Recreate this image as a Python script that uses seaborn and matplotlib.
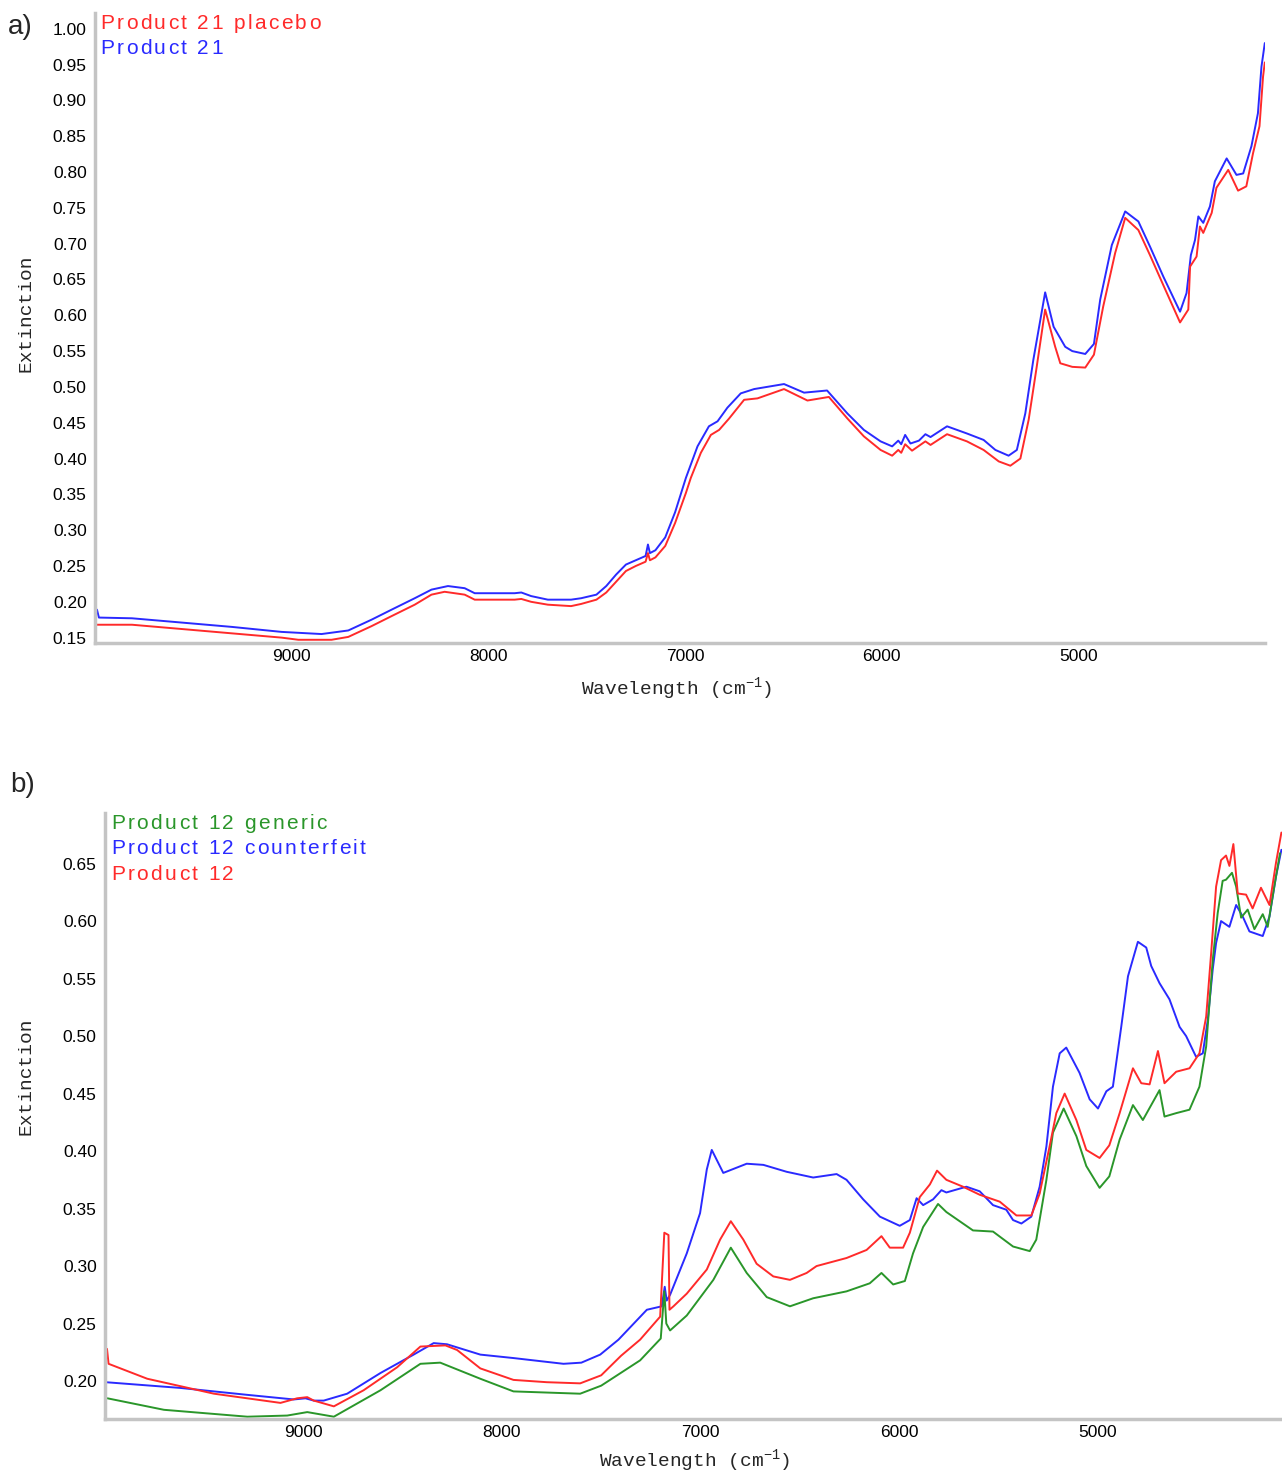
import numpy as np
import pandas as pd
import seaborn as sns
import matplotlib.pyplot as plt
from matplotlib.ticker import MultipleLocator, FormatStrFormatter
from matplotlib.transforms import offset_copy

# Panel a) Product 21 vs placebo
a_blue_wn = [9990, 9980, 9812, 9558, 9305, 9051, 8848, 8712, 8594, 8492, 8374, 8289, 8205, 8120,
             8069, 7866, 7832, 7782, 7697, 7579, 7528, 7450, 7400, 7350, 7300, 7250, 7200, 7188,
             7178, 7150, 7100, 7050, 6995, 6936, 6878, 6834, 6784, 6716, 6648, 6496, 6394, 6277,
             6174, 6090, 6005, 5946, 5915, 5900, 5880, 5853, 5810, 5777, 5751, 5667, 5566, 5481,
             5421, 5354, 5312, 5269, 5228, 5168, 5125, 5066, 5030, 4964, 4920, 4888, 4829, 4761,
             4694, 4635, 4567, 4482, 4449, 4427, 4406, 4389, 4364, 4330, 4305, 4245, 4195, 4161,
             4119, 4086, 4068, 4051]
a_blue_val = [0.189, 0.178, 0.177, 0.171, 0.165, 0.158, 0.155, 0.160, 0.175, 0.189, 0.205, 0.217,
              0.222, 0.219, 0.212, 0.212, 0.213, 0.208, 0.203, 0.203, 0.205, 0.210, 0.222, 0.238,
              0.252, 0.258, 0.264, 0.280, 0.268, 0.272, 0.290, 0.325, 0.373, 0.417, 0.445, 0.452,
              0.471, 0.491, 0.497, 0.504, 0.492, 0.495, 0.463, 0.440, 0.424, 0.417, 0.425, 0.420,
              0.433, 0.421, 0.425, 0.434, 0.430, 0.445, 0.435, 0.426, 0.412, 0.404, 0.412, 0.463,
              0.538, 0.632, 0.584, 0.556, 0.550, 0.546, 0.560, 0.622, 0.698, 0.745, 0.731, 0.696,
              0.654, 0.605, 0.631, 0.684, 0.705, 0.738, 0.729, 0.752, 0.787, 0.819, 0.796, 0.798,
              0.836, 0.882, 0.947, 0.980]

a_red_wn = [9990, 9812, 9558, 9305, 9051, 8966, 8797, 8712, 8594, 8492, 8374, 8289, 8222, 8120,
            8069, 7866, 7832, 7782, 7697, 7579, 7528, 7450, 7400, 7350, 7300, 7250, 7200, 7188,
            7178, 7150, 7100, 7050, 6995, 6970, 6919, 6868, 6826, 6775, 6699, 6631, 6496, 6377,
            6268, 6174, 6090, 6005, 5946, 5915, 5900, 5880, 5845, 5777, 5751, 5667, 5566, 5481,
            5404, 5345, 5294, 5252, 5211, 5168, 5117, 5091, 5030, 4964, 4920, 4873, 4812, 4761,
            4694, 4635, 4567, 4482, 4440, 4431, 4398, 4381, 4364, 4321, 4297, 4237, 4187, 4145,
            4111, 4078, 4060, 4051]
a_red_val = [0.168, 0.168, 0.162, 0.156, 0.150, 0.147, 0.147, 0.151, 0.166, 0.180, 0.196, 0.210,
             0.214, 0.210, 0.203, 0.203, 0.204, 0.200, 0.196, 0.194, 0.197, 0.203, 0.213, 0.228,
             0.243, 0.250, 0.256, 0.268, 0.258, 0.262, 0.278, 0.310, 0.352, 0.373, 0.408, 0.433,
             0.440, 0.456, 0.482, 0.484, 0.497, 0.481, 0.486, 0.456, 0.431, 0.412, 0.404, 0.412,
             0.408, 0.420, 0.411, 0.424, 0.419, 0.434, 0.424, 0.412, 0.396, 0.390, 0.400, 0.454,
             0.528, 0.608, 0.556, 0.533, 0.528, 0.527, 0.545, 0.612, 0.687, 0.736, 0.719, 0.684,
             0.642, 0.590, 0.608, 0.668, 0.682, 0.724, 0.715, 0.743, 0.778, 0.803, 0.774, 0.780,
             0.826, 0.864, 0.933, 0.953]

# Panel b) Product 12, counterfeit, generic
b_blue_wn = [9996, 9619, 9283, 9049, 8990, 8948, 8898, 8780, 8612, 8445, 8344, 8277, 8109, 7942,
             7690, 7600, 7505, 7413, 7270, 7195, 7180, 7170, 7153, 7069, 7002, 6968, 6943, 6885,
             6767, 6683, 6566, 6432, 6314, 6264, 6180, 6096, 5996, 5945, 5911, 5878, 5828, 5786,
             5761, 5660, 5593, 5526, 5459, 5425, 5383, 5333, 5291, 5257, 5224, 5190, 5157, 5090,
             5039, 4997, 4955, 4922, 4880, 4846, 4796, 4754, 4729, 4687, 4637, 4586, 4553, 4503,
             4469, 4444, 4419, 4402, 4377, 4335, 4301, 4268, 4234, 4167, 4133, 4100, 4073]
b_blue_val = [0.199, 0.194, 0.188, 0.184, 0.185, 0.183, 0.183, 0.189, 0.207, 0.223, 0.233, 0.232,
              0.223, 0.220, 0.215, 0.216, 0.223, 0.236, 0.262, 0.265, 0.282, 0.270, 0.275, 0.311,
              0.346, 0.384, 0.401, 0.381, 0.389, 0.388, 0.382, 0.377, 0.380, 0.375, 0.358, 0.343,
              0.335, 0.340, 0.359, 0.353, 0.358, 0.366, 0.364, 0.369, 0.365, 0.353, 0.349, 0.340,
              0.337, 0.343, 0.369, 0.404, 0.456, 0.485, 0.490, 0.468, 0.445, 0.437, 0.452, 0.456,
              0.508, 0.552, 0.582, 0.577, 0.561, 0.546, 0.532, 0.508, 0.500, 0.482, 0.485, 0.514,
              0.558, 0.581, 0.600, 0.595, 0.614, 0.604, 0.591, 0.587, 0.604, 0.639, 0.662]

b_red_wn = [9990, 9982, 9787, 9451, 9116, 9032, 8981, 8948, 8847, 8697, 8528, 8411, 8285, 8226,
            8109, 7942, 7774, 7606, 7500, 7400, 7304, 7203, 7182, 7161, 7156, 7136, 7069, 6968,
            6901, 6847, 6784, 6717, 6633, 6549, 6465, 6415, 6264, 6163, 6088, 6046, 5979, 5945,
            5895, 5844, 5808, 5761, 5677, 5593, 5492, 5408, 5333, 5291, 5241, 5207, 5165, 5106,
            5056, 4989, 4940, 4888, 4821, 4779, 4737, 4695, 4662, 4603, 4536, 4486, 4452, 4427,
            4402, 4377, 4352, 4335, 4315, 4293, 4251, 4218, 4176, 4133, 4100, 4073]
b_red_val = [0.228, 0.215, 0.202, 0.189, 0.181, 0.185, 0.186, 0.183, 0.178, 0.192, 0.212, 0.230,
             0.231, 0.227, 0.211, 0.201, 0.199, 0.198, 0.205, 0.222, 0.236, 0.256, 0.329, 0.327,
             0.262, 0.265, 0.276, 0.297, 0.323, 0.339, 0.323, 0.302, 0.291, 0.288, 0.294, 0.300,
             0.307, 0.314, 0.326, 0.316, 0.316, 0.329, 0.360, 0.371, 0.383, 0.375, 0.369, 0.362,
             0.356, 0.344, 0.344, 0.363, 0.404, 0.433, 0.450, 0.427, 0.401, 0.394, 0.405, 0.433,
             0.472, 0.459, 0.458, 0.487, 0.459, 0.469, 0.472, 0.485, 0.517, 0.572, 0.630, 0.653,
             0.657, 0.648, 0.667, 0.624, 0.623, 0.611, 0.629, 0.614, 0.651, 0.677]

b_green_wn = [9988, 9703, 9283, 9082, 8981, 8847, 8612, 8411, 8311, 8109, 7942, 7606, 7500, 7304,
              7200, 7182, 7172, 7153, 7069, 6935, 6847, 6767, 6666, 6549, 6432, 6264, 6147, 6088,
              6029, 5970, 5929, 5878, 5803, 5761, 5627, 5526, 5425, 5341, 5308, 5257, 5224, 5170,
              5106, 5056, 4989, 4940, 4888, 4821, 4771, 4687, 4662, 4603, 4536, 4486, 4452, 4419,
              4394, 4369, 4352, 4322, 4301, 4276, 4243, 4209, 4167, 4142, 4109, 4080]
b_green_val = [0.185, 0.175, 0.169, 0.170, 0.173, 0.169, 0.192, 0.215, 0.216, 0.202, 0.191, 0.189,
               0.196, 0.218, 0.237, 0.278, 0.250, 0.244, 0.257, 0.288, 0.316, 0.294, 0.273, 0.265,
               0.272, 0.278, 0.285, 0.294, 0.284, 0.287, 0.311, 0.334, 0.354, 0.347, 0.331, 0.330,
               0.317, 0.313, 0.323, 0.375, 0.416, 0.437, 0.413, 0.387, 0.368, 0.378, 0.410, 0.440,
               0.427, 0.453, 0.430, 0.433, 0.436, 0.456, 0.491, 0.566, 0.607, 0.635, 0.636, 0.642,
               0.630, 0.603, 0.610, 0.593, 0.606, 0.595, 0.630, 0.659]

RED = '#ff2a2a'
BLUE = '#2a2aff'
GREEN = '#2a962a'

sns.set_style('white')
plt.rcParams['font.family'] = ['Liberation Sans', 'DejaVu Sans']
plt.rcParams['mathtext.fontset'] = 'custom'
plt.rcParams['mathtext.rm'] = 'Liberation Mono'
plt.rcParams['mathtext.it'] = 'Liberation Mono'

fig = plt.figure(figsize=(12.82, 14.74), dpi=100)
ax_a = fig.add_axes([95 / 1282, 1 - 643 / 1474, 1170 / 1282, 630 / 1474])
ax_b = fig.add_axes([105 / 1282, 1 - 1419 / 1474, 1177 / 1282, 606 / 1474])

sns.lineplot(x=a_blue_wn, y=a_blue_val, ax=ax_a, color=BLUE, lw=1.4, sort=False, estimator=None)
sns.lineplot(x=a_red_wn, y=a_red_val, ax=ax_a, color=RED, lw=1.4, sort=False, estimator=None)

sns.lineplot(x=b_blue_wn, y=b_blue_val, ax=ax_b, color=BLUE, lw=1.4, sort=False, estimator=None)
sns.lineplot(x=b_green_wn, y=b_green_val, ax=ax_b, color=GREEN, lw=1.4, sort=False, estimator=None)
sns.lineplot(x=b_red_wn, y=b_red_val, ax=ax_b, color=RED, lw=1.4, sort=False, estimator=None)

ax_a.set_xlim(10000, 4050)
ax_a.set_ylim(0.1425, 1.022)
ax_b.set_xlim(10000, 4070)
ax_b.set_ylim(0.167, 0.694)

for ax in (ax_a, ax_b):
    sns.despine(ax=ax)
    for side in ('left', 'bottom'):
        ax.spines[side].set_color('#c4c4c4')
        ax.spines[side].set_linewidth(2.5)
    ax.set_xticks([9000, 8000, 7000, 6000, 5000])
    ax.xaxis.set_minor_locator(MultipleLocator(200))
    ax.yaxis.set_major_locator(MultipleLocator(0.05))
    ax.yaxis.set_minor_locator(MultipleLocator(0.01))
    ax.yaxis.set_major_formatter(FormatStrFormatter('%.2f'))
    ax.tick_params(axis='both', which='major', direction='out', length=4, width=1,
                   color='#333333', labelsize=12.5, pad=2, labelcolor='black')
    ax.tick_params(axis='both', which='minor', direction='in', length=2, width=1,
                   color='#555555')
    ax.tick_params(axis='x', which='major', pad=0)
    ax.set_xlabel(r'Wavelength (cm$^{-1}$)', family='Liberation Mono', fontsize=14)
    ax.set_ylabel('Extinction', family='Liberation Mono', fontsize=14)
    ax.grid(False)

ax_a.xaxis.set_label_coords(0.497, -0.052)
ax_a.yaxis.set_label_coords(-0.052, 0.524)
ax_b.xaxis.set_label_coords(0.501, -0.047)
ax_b.yaxis.set_label_coords(-0.060, 0.566)


def tracked_text(ax, x, y, s, color, size=15, track=2.4):
    # draw text char by char with extra letter spacing (pixels)
    renderer = fig.canvas.get_renderer()
    dx = 0.0
    for ch in s:
        tr = offset_copy(ax.transAxes, fig=fig, x=dx * 72 / fig.dpi, y=0, units='points')
        t = ax.text(x, y, ch, color=color, fontsize=size, transform=tr,
                    va='center', ha='left')
        if ch == ' ':
            t2 = ax.text(0, 0, 'a a', fontsize=size)
            t3 = ax.text(0, 0, 'aa', fontsize=size)
            w = t2.get_window_extent(renderer).width - t3.get_window_extent(renderer).width
            t2.remove()
            t3.remove()
        else:
            w = t.get_window_extent(renderer).width
        dx += w + track


tracked_text(ax_a, 0.0045, 0.984, 'Product 21 placebo', RED)
tracked_text(ax_a, 0.0045, 0.943, 'Product 21', BLUE)

tracked_text(ax_b, 0.005, 0.982, 'Product 12 generic', GREEN)
tracked_text(ax_b, 0.005, 0.941, 'Product 12 counterfeit', BLUE)
tracked_text(ax_b, 0.005, 0.898, 'Product 12', RED)

fig.text(8 / 1282, 1 - 27 / 1474, 'a)', fontsize=20, va='center', ha='left')
fig.text(10 / 1282, 1 - 785 / 1474, 'b)', fontsize=20, va='center', ha='left')

fig.savefig('out.png', dpi=100)
